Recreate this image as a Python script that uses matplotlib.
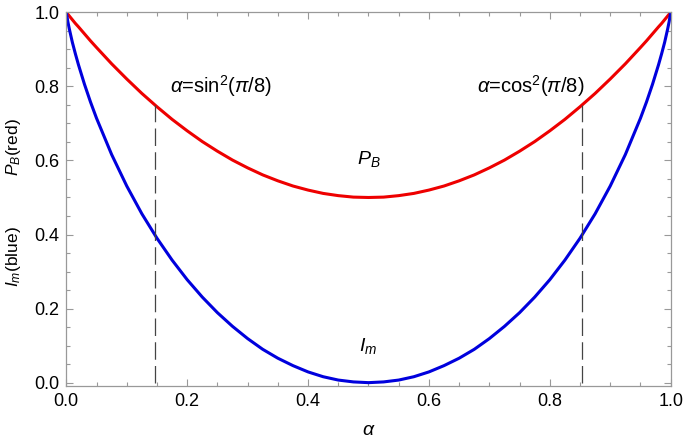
import matplotlib.pyplot as plt
from matplotlib.ticker import MultipleLocator

plt.rcParams['font.family'] = ['Liberation Sans', 'DejaVu Sans']
plt.rcParams['mathtext.fontset'] = 'custom'
plt.rcParams['mathtext.rm'] = 'Liberation Sans'
plt.rcParams['mathtext.it'] = 'Liberation Sans:italic'

# values
alpha = [0.0, 0.0025, 0.005, 0.01, 0.015, 0.02, 0.03, 0.04, 0.05, 0.075,
         0.1, 0.125, 0.15, 0.175, 0.2, 0.225, 0.25, 0.275, 0.3, 0.325,
         0.35, 0.375, 0.4, 0.425, 0.45, 0.475, 0.5, 0.525, 0.55, 0.575,
         0.6, 0.625, 0.65, 0.675, 0.7, 0.725, 0.75, 0.775, 0.8, 0.825,
         0.85, 0.875, 0.9, 0.925, 0.95, 0.96, 0.97, 0.98, 0.985, 0.99,
         0.995, 0.9975, 1.0]
p_b = [1.0, 0.995, 0.990, 0.980, 0.970, 0.961, 0.942, 0.923, 0.905, 0.861,
       0.820, 0.781, 0.745, 0.711, 0.680, 0.651, 0.625, 0.601, 0.580, 0.561,
       0.545, 0.531, 0.520, 0.511, 0.505, 0.501, 0.500, 0.501, 0.505, 0.511,
       0.520, 0.531, 0.545, 0.561, 0.580, 0.601, 0.625, 0.651, 0.680, 0.711,
       0.745, 0.781, 0.820, 0.861, 0.905, 0.923, 0.942, 0.961, 0.970, 0.980,
       0.990, 0.995, 1.0]
i_m = [1.0, 0.975, 0.955, 0.919, 0.888, 0.859, 0.806, 0.758, 0.714, 0.616,
       0.531, 0.456, 0.390, 0.331, 0.278, 0.231, 0.189, 0.152, 0.119, 0.090,
       0.066, 0.046, 0.029, 0.016, 0.007, 0.002, 0.0, 0.002, 0.007, 0.016,
       0.029, 0.046, 0.066, 0.090, 0.119, 0.152, 0.189, 0.231, 0.278, 0.331,
       0.390, 0.456, 0.531, 0.616, 0.714, 0.758, 0.806, 0.859, 0.888, 0.919,
       0.955, 0.975, 1.0]

# special angles: sin^2(pi/8), cos^2(pi/8) and P_B there
marks_x = [0.1464, 0.8536]
marks_top = [0.75, 0.75]

fig = plt.figure(figsize=(6.85, 4.43), dpi=100)
ax = fig.add_axes([0.0968, 0.1287, 0.8823, 0.8435])

ax.plot(alpha, p_b, color='#ee0000', lw=2.2, solid_capstyle='round')
ax.plot(alpha, i_m, color='#0000dd', lw=2.2, solid_capstyle='round')
ax.vlines(marks_x, 0, marks_top, color='#444444', lw=0.9,
          linestyles=(0, (14, 5)))

ax.set_xlim(0, 1)
ax.set_ylim(-0.009, 1.0)
ax.xaxis.set_major_locator(MultipleLocator(0.2))
ax.xaxis.set_minor_locator(MultipleLocator(0.05))
ax.yaxis.set_major_locator(MultipleLocator(0.2))
ax.yaxis.set_minor_locator(MultipleLocator(0.05))
ax.tick_params(which='both', direction='in', top=True, right=True,
               color='#999999', labelsize=13, pad=5)
ax.tick_params(which='major', length=5, width=0.8)
ax.tick_params(which='minor', length=3, width=0.8)
for s in ax.spines.values():
    s.set_color('#999999')
    s.set_linewidth(0.9)

ax.set_xlabel(r'$\alpha$', fontsize=14, labelpad=9)
# y label: two parts, spaced as in the reference
fig.text(0.02, 0.668, r'$P_B$(red)', fontsize=12.5, rotation=90,
         ha='center', va='center')
fig.text(0.02, 0.42, r'$I_m$(blue)', fontsize=12.5, rotation=90,
         ha='center', va='center')

ax.text(0.172, 0.80, r'$\alpha$=sin$^2$($\pi$/8)', fontsize=14.5, ha='left', va='center')
ax.text(0.680, 0.80, r'$\alpha$=cos$^2$($\pi$/8)', fontsize=14.5, ha='left', va='center')
ax.text(0.5, 0.605, r'$P_B$', fontsize=14, ha='center', va='center')
ax.text(0.5, 0.1, r'$I_m$', fontsize=14, ha='center', va='center')

fig.savefig('out.png', dpi=100)
